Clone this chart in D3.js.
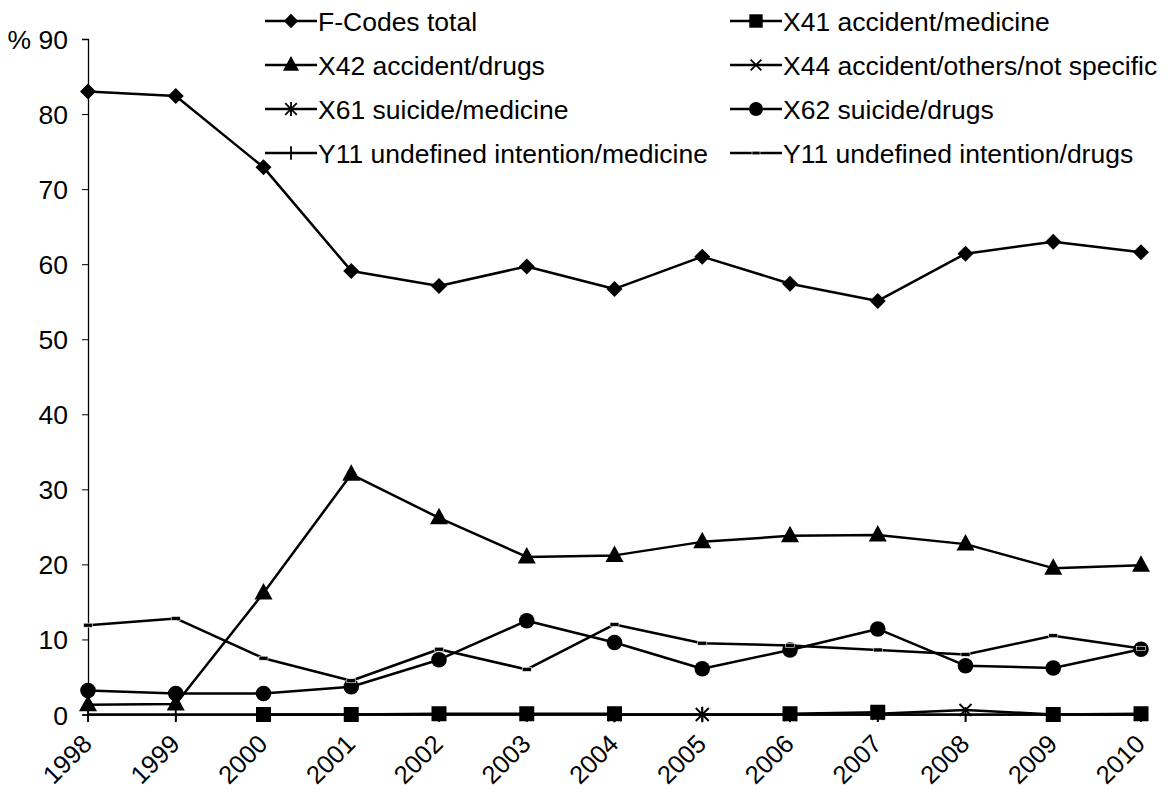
<!DOCTYPE html>
<html><head><meta charset="utf-8">
<script src="https://cdn.jsdelivr.net/npm/d3@7"></script>
<style>body{margin:0;background:#fff}svg{display:block}text{font-family:"Liberation Sans",Arial,sans-serif;fill:#000}</style>
</head><body><svg id="c" width="1175" height="792"></svg>
<script>
const years = [1998,1999,2000,2001,2002,2003,2004,2005,2006,2007,2008,2009,2010];
const yTicks = [0,10,20,30,40,50,60,70,80,90];
const fCodesTotal = [83.0,82.4,72.9,59.1,57.1,59.7,56.7,61.0,57.4,55.1,61.4,63.0,61.6];
const x41AccMed = [null,null,0.0,0.0,0.1,0.1,0.1,null,0.1,0.3,null,0.0,0.1];
const x42AccDrugs = [1.3,1.4,16.2,32.0,26.2,21.0,21.2,23.0,23.8,23.9,22.7,19.5,19.9];
const x44AccOther = [null,null,null,null,null,null,null,null,null,0.1,0.6,0.0,0.0];
const x61SuiMed = [null,null,null,null,null,null,0.0,0.0,0.0,null,null,null,null];
const x62SuiDrugs = [3.2,2.8,2.8,3.7,7.3,12.5,9.6,6.1,8.6,11.4,6.5,6.2,8.7];
const y11Med = [0,0,0,0,0,0,0,0,0,0,0,0,0];
const y11Drugs = [11.9,12.8,7.5,4.5,8.7,6.0,12.0,9.5,9.2,8.6,8.0,10.5,8.8];
const seriesNames = ["F-Codes total","X41 accident/medicine","X42 accident/drugs","X44 accident/others/not specific","X61 suicide/medicine","X62 suicide/drugs","Y11 undefined intention/medicine","Y11 undefined intention/drugs"];
const seriesValues = [fCodesTotal,x41AccMed,x42AccDrugs,x44AccOther,x61SuiMed,x62SuiDrugs,y11Med,y11Drugs];
const markers = ["diamond","square","triangle","x","asterisk","circle","plus","dash"];

const svg = d3.select("#c");
const x = d3.scalePoint().domain(years).range([88,1141]);
const y = d3.scaleLinear().domain([0,90]).range([714.5,39]);
const FS = 26.5;

const yAx = svg.append("g").attr("transform","translate(88,0)")
  .call(d3.axisLeft(y).tickValues(yTicks).tickSize(6).tickFormat(d=>d===90?"% 90":d));
yAx.select(".domain").attr("stroke","#000").attr("stroke-width",1.3);
yAx.selectAll(".tick line").attr("stroke","#000");
yAx.selectAll(".tick text").attr("x",-20).attr("dy","0.36em").style("font-size",FS+"px").style("font-family","Liberation Sans, Arial, sans-serif").attr("fill","#000");

const xAx = svg.append("g").attr("transform","translate(0,714.5)")
  .call(d3.axisBottom(x).tickSize(7).tickSizeOuter(0));
xAx.select(".domain").attr("stroke","#000").attr("stroke-width",1.3);
xAx.selectAll(".tick line").attr("stroke","#000");
xAx.selectAll(".tick text").attr("y",0).attr("dy",0)
  .attr("text-anchor","end")
  .attr("transform","translate(5,31) rotate(-45)")
  .style("font-size","25.5px").style("font-family","Liberation Sans, Arial, sans-serif").attr("fill","#000");

function drawMarker(g, type, cx, cy, s){
  const k = s/14;
  if(type==="diamond"){
    g.append("path").attr("d",`M${cx},${cy-8*k}L${cx+8*k},${cy}L${cx},${cy+8*k}L${cx-8*k},${cy}Z`).attr("fill","#000");
  } else if(type==="square"){
    g.append("rect").attr("x",cx-7.5*k).attr("y",cy-7.5*k).attr("width",15*k).attr("height",15*k).attr("fill","#000");
  } else if(type==="triangle"){
    g.append("path").attr("d",`M${cx},${cy-10*k}L${cx+9*k},${cy+6.5*k}L${cx-9*k},${cy+6.5*k}Z`).attr("fill","#000");
  } else if(type==="circle"){
    g.append("circle").attr("cx",cx).attr("cy",cy).attr("r",7.8*k).attr("fill","#000");
  } else if(type==="x"){
    const r=6*k;
    g.append("path").attr("d",`M${cx-r},${cy-r}L${cx+r},${cy+r}M${cx-r},${cy+r}L${cx+r},${cy-r}`).attr("stroke","#000").attr("stroke-width",1.8);
  } else if(type==="asterisk"){
    const r=6.5*k;
    g.append("path").attr("d",`M${cx-r},${cy-r}L${cx+r},${cy+r}M${cx-r},${cy+r}L${cx+r},${cy-r}M${cx},${cy-r*1.2}L${cx},${cy+r*1.2}`).attr("stroke","#000").attr("stroke-width",1.8);
  } else if(type==="plus"){
    const r=7.5*k;
    g.append("path").attr("d",`M${cx},${cy-r}L${cx},${cy+r}`).attr("stroke","#000").attr("stroke-width",1.8);
  } else if(type==="dash"){
    g.append("rect").attr("x",cx-4.5*k).attr("y",cy-2*k).attr("width",9*k).attr("height",4*k).attr("fill","#000").attr("stroke","#fff").attr("stroke-width",0.6);
  }
}

const line = d3.line().defined(d=>d.v!==null).x(d=>x(d.yr)).y(d=>y(d.v));
seriesValues.forEach((vals,i)=>{
  const data = years.map((yr,j)=>({yr,v:vals[j]}));
  const g = svg.append("g");
  g.append("path").datum(data).attr("d",line).attr("fill","none").attr("stroke","#000").attr("stroke-width",2.5).attr("stroke-linejoin","round");
  data.filter(d=>d.v!==null).forEach(d=>drawMarker(g,markers[i],x(d.yr),y(d.v),14));
});

const legX = [265,730], legY0 = 21, legDy = 44;
seriesNames.forEach((name,i)=>{
  const col = i%2, row = Math.floor(i/2);
  const lx = legX[col], ly = legY0 + row*legDy;
  const g = svg.append("g");
  g.append("line").attr("x1",lx).attr("x2",lx+52).attr("y1",ly).attr("y2",ly).attr("stroke","#000").attr("stroke-width",2.3);
  drawMarker(g,markers[i],lx+26,ly,12.5);
  g.append("text").attr("x",lx+53).attr("y",ly).attr("dy","0.36em").style("font-size",FS+"px").text(name);
});
</script></body></html>
